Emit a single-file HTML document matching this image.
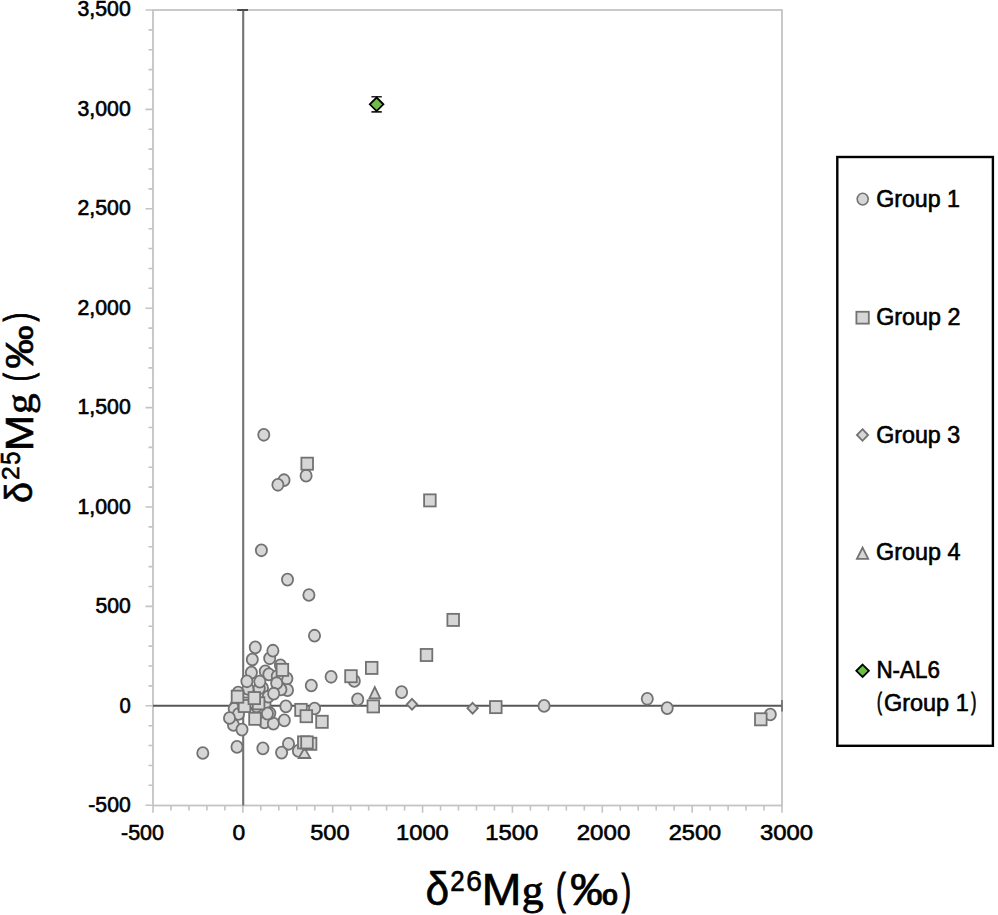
<!DOCTYPE html><html><head><meta charset="utf-8"><style>html,body{margin:0;padding:0;background:#fff;overflow:hidden;}svg{display:block;}text{font-family:"Liberation Sans",sans-serif;fill:#000;}</style></head><body>
<svg width="998" height="915" viewBox="0 0 998 915">
<rect width="998" height="915" fill="#fff"/>
<path d="M145.5 805.20H153.0 M148.5 785.32H153.0 M148.5 765.44H153.0 M148.5 745.56H153.0 M148.5 725.68H153.0 M145.5 705.80H153.0 M148.5 685.92H153.0 M148.5 666.04H153.0 M148.5 646.16H153.0 M148.5 626.28H153.0 M145.5 606.40H153.0 M148.5 586.52H153.0 M148.5 566.64H153.0 M148.5 546.76H153.0 M148.5 526.88H153.0 M145.5 507.00H153.0 M148.5 487.12H153.0 M148.5 467.24H153.0 M148.5 447.36H153.0 M148.5 427.48H153.0 M145.5 407.60H153.0 M148.5 387.72H153.0 M148.5 367.84H153.0 M148.5 347.96H153.0 M148.5 328.08H153.0 M145.5 308.20H153.0 M148.5 288.32H153.0 M148.5 268.44H153.0 M148.5 248.56H153.0 M148.5 228.68H153.0 M145.5 208.80H153.0 M148.5 188.92H153.0 M148.5 169.04H153.0 M148.5 149.16H153.0 M148.5 129.28H153.0 M145.5 109.40H153.0 M148.5 89.52H153.0 M148.5 69.64H153.0 M148.5 49.76H153.0 M148.5 29.88H153.0 M145.5 10.00H153.0 M153.00 805.5V812.8 M170.97 805.5V810.5 M188.94 805.5V810.5 M206.91 805.5V810.5 M224.89 805.5V810.5 M242.86 805.5V812.8 M260.83 805.5V810.5 M278.80 805.5V810.5 M296.77 805.5V810.5 M314.74 805.5V810.5 M332.71 805.5V812.8 M350.69 805.5V810.5 M368.66 805.5V810.5 M386.63 805.5V810.5 M404.60 805.5V810.5 M422.57 805.5V812.8 M440.54 805.5V810.5 M458.51 805.5V810.5 M476.49 805.5V810.5 M494.46 805.5V810.5 M512.43 805.5V812.8 M530.40 805.5V810.5 M548.37 805.5V810.5 M566.34 805.5V810.5 M584.31 805.5V810.5 M602.29 805.5V812.8 M620.26 805.5V810.5 M638.23 805.5V810.5 M656.20 805.5V810.5 M674.17 805.5V810.5 M692.14 805.5V812.8 M710.11 805.5V810.5 M728.09 805.5V810.5 M746.06 805.5V810.5 M764.03 805.5V810.5 M782.00 805.5V812.8" stroke="#c4c4c4" stroke-width="1.6" fill="none"/>
<rect x="153.0" y="10.0" width="629.0" height="795.5" fill="none" stroke="#c4c4c4" stroke-width="1.8"/>
<path d="M243.20 10.0V805.5" stroke="#727272" stroke-width="2.1" fill="none"/>
<path d="M237.2 10.0H248" stroke="#4a4a4a" stroke-width="2" fill="none"/>
<path d="M153.0 705.85H782.0" stroke="#575757" stroke-width="2" fill="none"/>
<path d="M782.0 700.05V711.45" stroke="#6e6e6e" stroke-width="1.7" fill="none"/>
<g fill="#d6d6d6" stroke="#727272" stroke-width="1.8">
<ellipse cx="263.8" cy="434.8" rx="5.6" ry="5.95"/>
<ellipse cx="306.1" cy="475.7" rx="5.6" ry="5.95"/>
<ellipse cx="284.0" cy="480.2" rx="5.6" ry="5.95"/>
<ellipse cx="277.9" cy="484.8" rx="5.6" ry="5.95"/>
<ellipse cx="261.4" cy="550.3" rx="5.6" ry="5.95"/>
<ellipse cx="287.5" cy="579.6" rx="5.6" ry="5.95"/>
<ellipse cx="308.9" cy="595.0" rx="5.6" ry="5.95"/>
<ellipse cx="314.5" cy="635.7" rx="5.6" ry="5.95"/>
<ellipse cx="331.1" cy="676.8" rx="5.6" ry="5.95"/>
<ellipse cx="311.3" cy="685.5" rx="5.6" ry="5.95"/>
<ellipse cx="354.3" cy="680.9" rx="5.6" ry="5.95"/>
<ellipse cx="357.7" cy="699.4" rx="5.6" ry="5.95"/>
<ellipse cx="401.6" cy="692.1" rx="5.6" ry="5.95"/>
<ellipse cx="314.6" cy="708.5" rx="5.6" ry="5.95"/>
<ellipse cx="544.1" cy="705.9" rx="5.6" ry="5.95"/>
<ellipse cx="647.3" cy="698.8" rx="5.6" ry="5.95"/>
<ellipse cx="667.2" cy="708.1" rx="5.6" ry="5.95"/>
<ellipse cx="770.3" cy="714.5" rx="5.6" ry="5.95"/>
<ellipse cx="202.8" cy="753.0" rx="5.6" ry="5.95"/>
<ellipse cx="237.0" cy="746.9" rx="5.6" ry="5.95"/>
<ellipse cx="262.9" cy="748.4" rx="5.6" ry="5.95"/>
<ellipse cx="298.4" cy="750.9" rx="5.6" ry="5.95"/>
<ellipse cx="288.5" cy="743.8" rx="5.6" ry="5.95"/>
<ellipse cx="281.6" cy="752.6" rx="5.6" ry="5.95"/>
<ellipse cx="262.5" cy="688.0" rx="5.6" ry="5.95"/>
<ellipse cx="262.0" cy="697.0" rx="5.6" ry="5.95"/>
<ellipse cx="248.0" cy="689.0" rx="5.6" ry="5.95"/>
<ellipse cx="256.5" cy="706.5" rx="5.6" ry="5.95"/>
<ellipse cx="265.0" cy="704.0" rx="5.6" ry="5.95"/>
<ellipse cx="252.0" cy="702.0" rx="5.6" ry="5.95"/>
<ellipse cx="269.7" cy="658.3" rx="5.6" ry="5.95"/>
<ellipse cx="272.9" cy="650.7" rx="5.6" ry="5.95"/>
<ellipse cx="255.3" cy="647.4" rx="5.6" ry="5.95"/>
<ellipse cx="252.3" cy="659.5" rx="5.6" ry="5.95"/>
<ellipse cx="280.4" cy="665.3" rx="5.6" ry="5.95"/>
<ellipse cx="265.3" cy="671.4" rx="5.6" ry="5.95"/>
<ellipse cx="268.9" cy="674.4" rx="5.6" ry="5.95"/>
<ellipse cx="251.4" cy="672.6" rx="5.6" ry="5.95"/>
<ellipse cx="286.9" cy="678.6" rx="5.6" ry="5.95"/>
<ellipse cx="277.3" cy="676.2" rx="5.6" ry="5.95"/>
<ellipse cx="259.2" cy="688.3" rx="5.6" ry="5.95"/>
<ellipse cx="259.8" cy="681.6" rx="5.6" ry="5.95"/>
<ellipse cx="287.5" cy="690.1" rx="5.6" ry="5.95"/>
<ellipse cx="280.9" cy="689.5" rx="5.6" ry="5.95"/>
<ellipse cx="276.7" cy="683.2" rx="5.6" ry="5.95"/>
<ellipse cx="268.3" cy="696.7" rx="5.6" ry="5.95"/>
<ellipse cx="273.7" cy="693.7" rx="5.6" ry="5.95"/>
<ellipse cx="238.2" cy="692.5" rx="5.6" ry="5.95"/>
<ellipse cx="246.9" cy="681.3" rx="5.6" ry="5.95"/>
<ellipse cx="236.0" cy="705.5" rx="5.6" ry="5.95"/>
<ellipse cx="234.2" cy="708.8" rx="5.6" ry="5.95"/>
<ellipse cx="238.5" cy="714.0" rx="5.6" ry="5.95"/>
<ellipse cx="233.5" cy="725.0" rx="5.6" ry="5.95"/>
<ellipse cx="229.5" cy="718.0" rx="5.6" ry="5.95"/>
<ellipse cx="264.5" cy="722.5" rx="5.6" ry="5.95"/>
<ellipse cx="273.4" cy="723.6" rx="5.6" ry="5.95"/>
<ellipse cx="269.8" cy="713.2" rx="5.6" ry="5.95"/>
<ellipse cx="267.4" cy="713.6" rx="5.6" ry="5.95"/>
<ellipse cx="284.3" cy="720.4" rx="5.6" ry="5.95"/>
<ellipse cx="285.9" cy="706.4" rx="5.6" ry="5.95"/>
<ellipse cx="242.0" cy="729.6" rx="5.6" ry="5.95"/>
<path d="M374.80 687.10L380.20 698.30L369.40 698.30Z"/>
<path d="M304.50 747.90L310.30 758.00L298.70 758.00Z"/>
<path d="M412.00 698.90L417.20 704.30L412.00 709.70L406.80 704.30Z"/>
<path d="M472.60 702.80L477.80 708.20L472.60 713.60L467.40 708.20Z"/>
<rect x="238.20" y="697.45" width="11.6" height="12.1"/>
<rect x="238.70" y="699.95" width="11.6" height="12.1"/>
<rect x="252.80" y="697.25" width="11.6" height="12.1"/>
<rect x="231.70" y="690.65" width="11.6" height="12.1"/>
<rect x="248.50" y="692.05" width="11.6" height="12.1"/>
<rect x="249.20" y="712.75" width="11.6" height="12.1"/>
<rect x="276.60" y="663.85" width="11.6" height="12.1"/>
<rect x="301.40" y="457.65" width="11.6" height="12.1"/>
<rect x="424.10" y="494.35" width="11.6" height="12.1"/>
<rect x="447.40" y="613.85" width="11.6" height="12.1"/>
<rect x="420.70" y="648.95" width="11.6" height="12.1"/>
<rect x="365.90" y="661.85" width="11.6" height="12.1"/>
<rect x="345.20" y="670.15" width="11.6" height="12.1"/>
<rect x="367.50" y="700.35" width="11.6" height="12.1"/>
<rect x="490.00" y="701.05" width="11.6" height="12.1"/>
<rect x="755.00" y="713.25" width="11.6" height="12.1"/>
<rect x="295.20" y="703.85" width="11.6" height="12.1"/>
<rect x="300.50" y="710.15" width="11.6" height="12.1"/>
<rect x="316.20" y="715.75" width="11.6" height="12.1"/>
<rect x="304.80" y="737.75" width="11.6" height="12.1"/>
<rect x="298.00" y="736.35" width="11.6" height="12.1"/>
<rect x="301.20" y="736.35" width="11.6" height="12.1"/>
</g>
<path d="M376.6 96.7V111.89999999999999 M371.40000000000003 96.7H381.8 M371.40000000000003 111.89999999999999H381.8" stroke="#222" stroke-width="1.6" fill="none"/>
<path d="M376.6 97.5L383.40000000000003 104.3L376.6 111.1L369.8 104.3Z" fill="#6cbf45" stroke="#000" stroke-width="1.8"/>
<g stroke="#000" stroke-width="0.6">
<text font-size="100" transform="matrix(0.2125 0 0 0.2134 77.55 16.05)" stroke-width="2.817">3,500</text>
<text font-size="100" transform="matrix(0.2125 0 0 0.2134 77.55 115.60)" stroke-width="2.817">3,000</text>
<text font-size="100" transform="matrix(0.2125 0 0 0.2134 77.55 215.15)" stroke-width="2.818">2,500</text>
<text font-size="100" transform="matrix(0.2125 0 0 0.2134 77.55 314.70)" stroke-width="2.818">2,000</text>
<text font-size="100" transform="matrix(0.2125 0 0 0.2134 77.56 414.25)" stroke-width="2.818">1,500</text>
<text font-size="100" transform="matrix(0.2125 0 0 0.2134 77.56 513.80)" stroke-width="2.818">1,000</text>
<text font-size="100" transform="matrix(0.2112 0 0 0.2134 95.48 613.35)" stroke-width="2.826">500</text>
<text font-size="100" transform="matrix(0.2024 0 0 0.2134 119.43 712.90)" stroke-width="2.886">0</text>
<text font-size="100" transform="matrix(0.2119 0 0 0.2134 88.32 812.45)" stroke-width="2.822">-500</text>
<text font-size="100" transform="matrix(0.2143 0 0 0.2249 121.05 839.50)" stroke-width="2.733">-500</text>
<text font-size="100" transform="matrix(0.2280 0 0 0.2249 232.41 839.50)" stroke-width="2.650">0</text>
<text font-size="100" transform="matrix(0.2359 0 0 0.2249 310.16 839.50)" stroke-width="2.604">500</text>
<text font-size="100" transform="matrix(0.2366 0 0 0.2249 396.10 839.50)" stroke-width="2.601">1000</text>
<text font-size="100" transform="matrix(0.2385 0 0 0.2249 485.28 839.50)" stroke-width="2.590">1500</text>
<text font-size="100" transform="matrix(0.2412 0 0 0.2249 576.69 839.50)" stroke-width="2.575">2000</text>
<text font-size="100" transform="matrix(0.2356 0 0 0.2249 668.72 839.50)" stroke-width="2.606">2500</text>
<text font-size="100" transform="matrix(0.2389 0 0 0.2249 759.89 839.50)" stroke-width="2.588">3000</text>
<text font-size="100" transform="matrix(0.4257 0 0 0.4562 425.61 905.05)" stroke-width="1.361">δ</text>
<text font-size="100" transform="matrix(0.2590 0 0 0.2993 450.30 891.30)" stroke-width="2.149">2</text>
<text font-size="100" transform="matrix(0.2817 0 0 0.2910 466.37 891.02)" stroke-width="2.095">6</text>
<text font-size="100" transform="matrix(0.4814 0 0 0.4404 481.55 905.40)" stroke-width="1.302">M</text>
<text font-size="100" transform="matrix(0.4361 0 0 0.4143 521.63 904.36)" stroke-width="1.882" style="font-family:'Liberation Serif',serif">g</text>
<text font-size="100" transform="matrix(0.2904 0 0 0.4412 556.10 904.37)" stroke-width="2.734">(</text>
<text font-size="100" transform="matrix(0.4832 0 0 0.4476 570.00 905.46)" stroke-width="1.289">‰</text>
<text font-size="100" transform="matrix(0.2791 0 0 0.4336 621.84 903.92)" stroke-width="2.806">)</text>
<text font-size="100" transform="matrix(0 -0.3770 0.3799 0 32.13 503.08)" stroke-width="1.585">δ</text>
<text font-size="100" transform="matrix(0 -0.2458 0.2463 0 19.10 480.04)" stroke-width="2.438">2</text>
<text font-size="100" transform="matrix(0 -0.2362 0.2737 0 20.43 464.65)" stroke-width="2.353">5</text>
<text font-size="100" transform="matrix(0 -0.4395 0.3808 0 32.60 451.21)" stroke-width="1.463">M</text>
<text font-size="100" transform="matrix(0 -0.4110 0.3759 0 31.94 413.92)" stroke-width="1.779" style="font-family:'Liberation Serif',serif">g</text>
<text font-size="100" transform="matrix(0 -0.2414 0.3810 0 31.46 381.15)" stroke-width="2.892">(</text>
<text font-size="100" transform="matrix(0 -0.4356 0.3847 0 32.89 368.77)" stroke-width="1.463">‰</text>
<text font-size="100" transform="matrix(0 -0.2640 0.3810 0 31.46 321.40)" stroke-width="2.790">)</text>
<text font-size="100" transform="matrix(0.2322 0 0 0.2406 876.13 206.60)" stroke-width="2.538">Group 1</text>
<text font-size="100" transform="matrix(0.2332 0 0 0.2406 876.13 324.60)" stroke-width="2.533">Group 2</text>
<text font-size="100" transform="matrix(0.2327 0 0 0.2449 876.13 442.60)" stroke-width="2.512">Group 3</text>
<text font-size="100" transform="matrix(0.2337 0 0 0.2349 876.12 559.70)" stroke-width="2.561">Group 4</text>
<text font-size="100" transform="matrix(0.2237 0 0 0.2334 876.46 677.70)" stroke-width="2.625">N-AL6</text>
<text font-size="100" transform="matrix(0.1471 0 0 0.2372 877.09 710.09)" stroke-width="4.163">(</text>
<text font-size="100" transform="matrix(0.2348 0 0 0.2392 883.92 710.70)" stroke-width="2.532">Group 1</text>
<text font-size="100" transform="matrix(0.1509 0 0 0.2351 971.21 709.93)" stroke-width="4.146">)</text>
</g>
<rect x="837.3" y="157" width="155.6" height="588.8" fill="none" stroke="#000" stroke-width="2.4"/>
<g fill="#d6d6d6" stroke="#727272" stroke-width="1.8">
<ellipse cx="862.7" cy="199.1" rx="5.5" ry="5.9" stroke-width="1.6"/>
<rect x="856.40" y="311.75" width="12.4" height="11.9"/>
<path d="M862.50 429.20L868.10 435.00L862.50 440.80L856.90 435.00Z"/>
<path d="M862.6 547.6L868.2 558.9L856.9 558.9Z"/>
</g>
<path d="M862.6 664.6L868.9 670.8L862.6 677L856.3 670.8Z" fill="#6cbf45" stroke="#000" stroke-width="1.8"/>
</svg></body></html>
